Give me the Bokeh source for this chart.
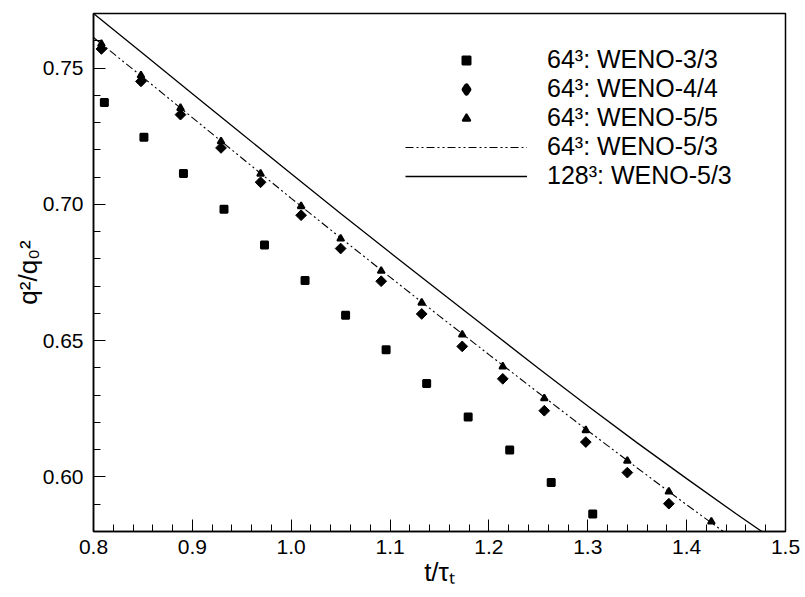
from bokeh.plotting import figure
from bokeh.models import (Range1d, FixedTicker, NumeralTickFormatter, Legend, LegendItem,
                          ColumnDataSource)
from bokeh.embed import file_html
from bokeh.resources import INLINE

# ---- data ----
t_weno33 = [0.811, 0.851, 0.891, 0.932, 0.973, 1.014, 1.055, 1.096, 1.137, 1.179, 1.221, 1.263, 1.305]
q_weno33 = [0.7374, 0.7246, 0.7113, 0.6982, 0.6851, 0.6721, 0.6593, 0.6467, 0.6343, 0.6220, 0.6099, 0.5980, 0.5864]

t_weno44 = [0.808, 0.848, 0.888, 0.929, 0.969, 1.010, 1.050, 1.091, 1.132, 1.173, 1.214, 1.256, 1.298, 1.340, 1.382]
q_weno44 = [0.7570, 0.7451, 0.7329, 0.7207, 0.7081, 0.6960, 0.6838, 0.6718, 0.6598, 0.6479, 0.6360, 0.6243, 0.6128, 0.6016, 0.5902]

t_weno55 = [0.808, 0.848, 0.888, 0.929, 0.969, 1.010, 1.050, 1.091, 1.132, 1.173, 1.214, 1.256, 1.298, 1.340, 1.382, 1.425]
q_weno55 = [0.7588, 0.7473, 0.7353, 0.7231, 0.7112, 0.6993, 0.6874, 0.6756, 0.6639, 0.6522, 0.6405, 0.6288, 0.6171, 0.6059, 0.5946, 0.5836]

t_64_weno53 = [0.80, 0.85, 0.90, 0.95, 1.00, 1.05, 1.10, 1.15, 1.20, 1.25, 1.30, 1.35, 1.40, 1.45]
q_64_weno53 = [0.7612, 0.7466, 0.7318, 0.7170, 0.7022, 0.6877, 0.6733, 0.6590, 0.6449, 0.6309, 0.6170, 0.6033, 0.5898, 0.5766]

t_128_weno53 = [0.80, 0.85, 0.90, 0.95, 1.00, 1.05, 1.10, 1.15, 1.20, 1.25, 1.30, 1.35, 1.40, 1.45, 1.50]
q_128_weno53 = [0.7700, 0.7553, 0.7406, 0.7259, 0.7112, 0.6966, 0.6823, 0.6681, 0.6540, 0.6399, 0.6260, 0.6125, 0.5994, 0.5865, 0.5740]

labels = ["64³: WENO-3/3", "64³: WENO-4/4", "64³: WENO-5/5", "64³: WENO-5/3", "128³: WENO-5/3"]

x_ticks = [0.8, 0.9, 1.0, 1.1, 1.2, 1.3, 1.4, 1.5]
x_minor = [round(0.8 + 0.02 * i, 2) for i in range(36)]
y_ticks = [0.60, 0.65, 0.70, 0.75]
y_minor = [round(0.58 + 0.01 * i, 2) for i in range(20)]

FONT = "Liberation Sans"

p = figure(width=805, height=597, output_backend="svg", toolbar_location=None,
           x_range=Range1d(0.8, 1.5), y_range=Range1d(0.58, 0.77),
           min_border_left=93, min_border_right=20, min_border_top=13, min_border_bottom=66)
p.grid.visible = False
p.background_fill_color = "white"
p.border_fill_color = "white"
p.outline_line_color = "black"
p.outline_line_width = 1.5
p.outline_line_alpha = 1.0

p.xaxis.ticker = FixedTicker(ticks=x_ticks, minor_ticks=x_minor)
p.yaxis.ticker = FixedTicker(ticks=y_ticks, minor_ticks=y_minor)
p.xaxis.formatter = NumeralTickFormatter(format="0.0")
p.yaxis.formatter = NumeralTickFormatter(format="0.00")

for ax in (p.xaxis[0], p.yaxis[0]):
    ax.axis_line_color = "black"
    ax.axis_line_width = 1.5
    ax.major_tick_line_color = "black"
    ax.minor_tick_line_color = "black"
    ax.major_tick_line_width = 1
    ax.minor_tick_line_width = 1
    ax.major_tick_in = 12
    ax.major_tick_out = 0
    ax.minor_tick_in = 7
    ax.minor_tick_out = 0
    ax.major_label_text_font = FONT
    ax.major_label_text_font_size = "21px"
    ax.major_label_text_color = "black"
    ax.axis_label_text_font = FONT
    ax.axis_label_text_font_size = "26px"
    ax.axis_label_text_font_style = "normal"
    ax.axis_label_text_color = "black"

p.xaxis.axis_label = "t/τₜ"
p.yaxis.axis_label = "q²/q₀²"
p.xaxis.major_label_standoff = 8
p.yaxis.major_label_standoff = 10
p.xaxis.axis_label_standoff = 0
p.yaxis.axis_label_standoff = -3

src33 = ColumnDataSource(dict(t=t_weno33, q=q_weno33))
src44 = ColumnDataSource(dict(t=t_weno44, q=q_weno44))
src55 = ColumnDataSource(dict(t=t_weno55, q=q_weno55))

r_128 = p.line(t_128_weno53, q_128_weno53, line_color="black", line_width=1.3)
r_64 = p.line(t_64_weno53, q_64_weno53, line_color="black", line_width=1.1,
              line_dash="8 3 2 3 2 3")

# squares: stroke widens the legend key (fixed legend marker size) to match the reference
r_sq = p.scatter("t", "q", source=src33, marker="square", size=7,
                 fill_color="black", line_color="black", line_width=2)
# diamonds: a small, heavily stroked diamond (legend key) hidden under rotated squares
r_di = p.scatter("t", "q", source=src44, marker="diamond", size=2,
                 fill_color="black", line_color="black", line_width=4.5, line_join="round")
p.scatter("t", "q", source=src44, marker="square", size=7.6, angle=0.785398,
          fill_color="black", line_color="black")
# triangles
r_tr = p.scatter("t", "q", source=src55, marker="triangle", size=7,
                 fill_color="black", line_color="black", line_width=1.75)

legend = Legend(items=[
    LegendItem(label=labels[0], renderers=[r_sq]),
    LegendItem(label=labels[1], renderers=[r_di]),
    LegendItem(label=labels[2], renderers=[r_tr]),
    LegendItem(label=labels[3], renderers=[r_64]),
    LegendItem(label=labels[4], renderers=[r_128]),
], location=(312, 341))
legend.padding = 0
legend.margin = 0
legend.spacing = 0
legend.glyph_width = 122
legend.glyph_height = 20
legend.label_height = 28
legend.label_standoff = 20
legend.label_text_font = FONT
legend.label_text_font_size = "25px"
legend.label_text_color = "black"
legend.border_line_alpha = 0
legend.background_fill_alpha = 0
p.add_layout(legend, "center")

open("out.html", "w").write(file_html(p, INLINE))
